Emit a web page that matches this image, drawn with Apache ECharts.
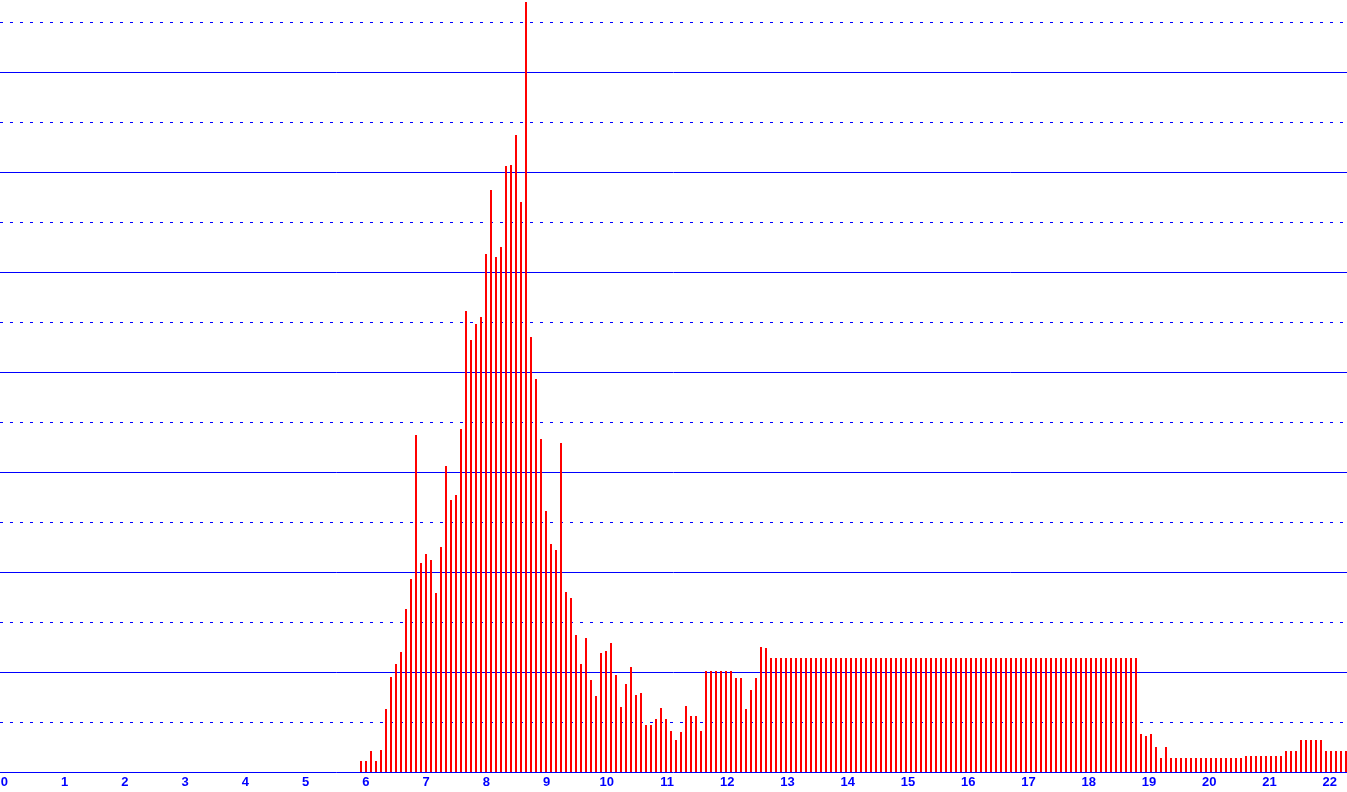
<!DOCTYPE html>
<html>
<head>
<meta charset="utf-8">
<script src="https://cdn.jsdelivr.net/npm/echarts@6/dist/echarts.min.js"></script>
<style>
html, body { margin: 0; padding: 0; background: #fff; }
#chart { width: 1347px; height: 792px; }
</style>
</head>
<body>
<div id="chart"></div>
<script>
// one bar every 5 minutes, first slot starts at 5:55
const slotStart = 355;
const slotStep = 5;

const hourTicks = [0, 1, 2, 3, 4, 5, 6, 7, 8, 9, 10, 11, 12, 13, 14, 15, 16, 17, 18, 19, 20, 21, 22];

const counts = [
  11, 11, 21, 11, 22, 63, 95, 108, 120, 163,
  193, 337, 209, 218, 212, 179, 225, 306, 272, 277,
  343, 461, 432, 448, 455, 518, 582, 515, 525, 606,
  607, 637, 570, 770, 435, 393, 333, 261, 228, 222,
  329, 180, 174, 137, 108, 134, 92, 76, 119, 121,
  129, 97, 65, 88, 105, 77, 79, 47, 47, 53,
  64, 53, 41, 32, 40, 66, 56, 56, 41, 101,
  101, 101, 101, 101, 101, 94, 94, 63, 82, 94,
  125, 124,
  114, 114, 114, 114, 114, 114, 114, 114, 114, 114,
  114, 114, 114, 114, 114, 114, 114, 114, 114, 114,
  114, 114, 114, 114, 114, 114, 114, 114, 114, 114,
  114, 114, 114, 114, 114, 114, 114, 114, 114, 114,
  114, 114, 114, 114, 114, 114, 114, 114, 114, 114,
  114, 114, 114, 114, 114, 114, 114, 114, 114, 114,
  114, 114, 114, 114, 114, 114, 114, 114, 114, 114,
  114, 114, 114, 114,
  38, 36, 38, 25, 14, 25,
  14, 14, 14, 14, 14, 14, 14, 14, 14, 14, 14, 14, 14, 14, 14,
  16, 16, 16, 16, 16, 16, 16, 16,
  21, 21, 21,
  32, 32, 32, 32, 32,
  21, 21, 21, 21, 21
];

function buildData() {
  return counts.map((v, i) => [(slotStart + i * slotStep) / 60, v]);
}

function initOption() {
  return {
    backgroundColor: '#ffffff',
    animation: false,
    grid: [
      // plot area for the bars
      { left: -54, right: -39, top: -28, bottom: 20, containLabel: false, outerBoundsMode: 'none' },
      // the hour labels sit on a slightly wider scale than the bars
      { left: -56, right: -43, top: -28, bottom: 20, containLabel: false, outerBoundsMode: 'none' }
    ],
    xAxis: [{
      type: 'value',
      gridIndex: 0,
      min: -1,
      max: 23,
      interval: 1,
      axisLine: { show: false },
      axisTick: { show: false },
      splitLine: { show: false },
      axisLabel: { show: false }
    }, {
      type: 'value',
      gridIndex: 1,
      min: -1,
      max: 23,
      interval: 1,
      axisLine: { show: false },
      axisTick: { show: false },
      splitLine: { show: false },
      axisLabel: {
        color: '#0000ff',
        fontFamily: 'Liberation Sans',
        fontWeight: 'bold',
        fontSize: 13,
        margin: 4,
        formatter: function (val) {
          return hourTicks.indexOf(val) >= 0 ? String(val) : '';
        }
      }
    }],
    yAxis: [{
      type: 'value',
      gridIndex: 0,
      min: 0,
      max: 800,
      interval: 100,
      axisLine: { show: false },
      axisTick: { show: false },
      axisLabel: { show: false },
      splitLine: {
        show: true,
        lineStyle: { color: '#0000ff', width: 1, type: 'solid' }
      },
      minorTick: { show: false, splitNumber: 2 },
      minorSplitLine: {
        show: true,
        lineStyle: { color: '#0000ff', width: 1, type: [3, 7], dashOffset: 6 }
      }
    }, {
      type: 'value',
      gridIndex: 1,
      show: false
    }],
    series: [{
      type: 'bar',
      xAxisIndex: 0,
      yAxisIndex: 0,
      barWidth: 2,
      itemStyle: { color: '#ff0000' },
      data: buildData()
    }]
  };
}

const chart = echarts.init(document.getElementById('chart'));
chart.setOption(initOption());
</script>
</body>
</html>
